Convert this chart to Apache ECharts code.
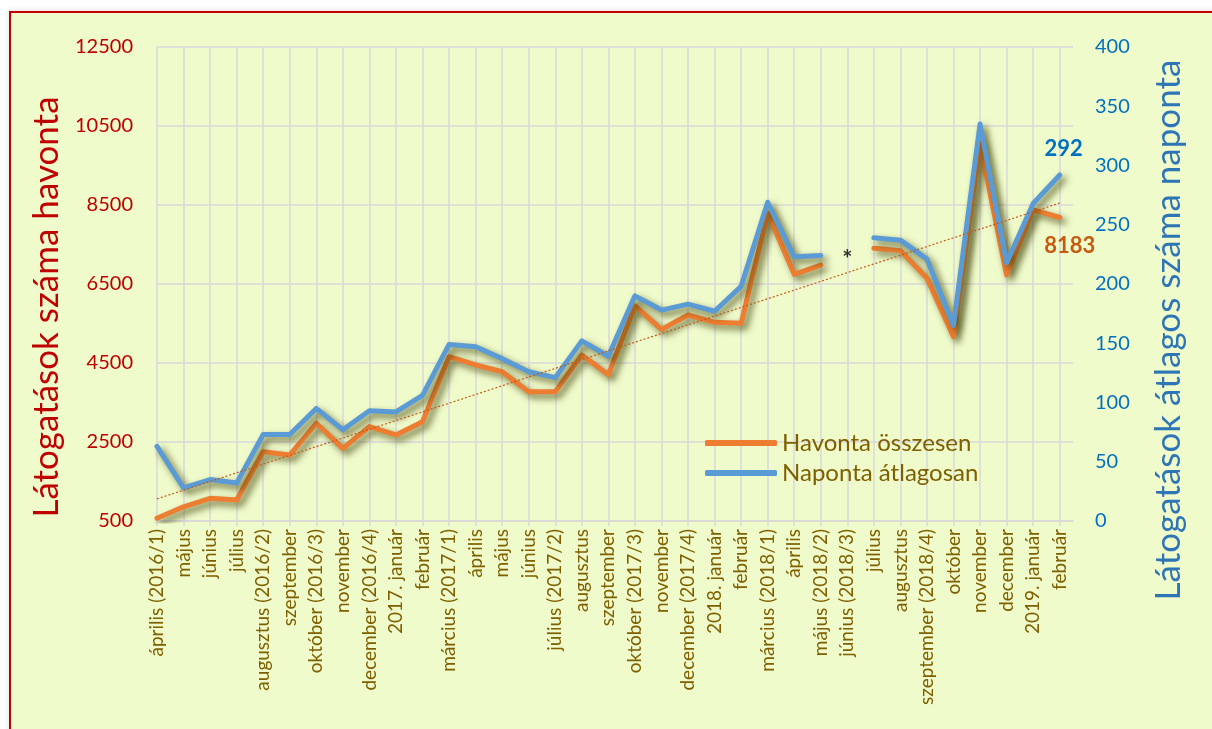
<!DOCTYPE html>
<html>
<head>
<meta charset="utf-8">
<script src="https://cdn.jsdelivr.net/npm/echarts@6/dist/echarts.min.js"></script>
<style>
html,body{margin:0;padding:0;background:#ffffff;overflow:hidden;width:1212px;height:729px;}
#bg{position:absolute;left:9px;top:11px;width:1260px;height:780px;background:#F0FBCC;border:2px solid #C00000;box-shadow:-2px -2px 4px rgba(0,0,0,0.08);}
#chart{position:absolute;left:0;top:0;width:1212px;height:729px;}
</style>
</head>
<body>
<div id="bg"></div>
<div id="chart"></div>
<script>
const categories = [
  'április (2016/1)','május','június','július','augusztus (2016/2)','szeptember',
  'október (2016/3)','november','december (2016/4)','2017. január','február',
  'március (2017/1)','április','május','június','július (2017/2)','augusztus',
  'szeptember','október (2017/3)','november','december (2017/4)','2018. január',
  'február','március (2018/1)','április','május (2018/2)','június (2018/3)',
  'július','augusztus','szeptember (2018/4)','október','november','december',
  '2019. január','február'
];
const monthlyTotal = [570, 860, 1075, 1030, 2255, 2170, 2975, 2340, 2890, 2680, 3015,
  4660, 4450, 4280, 3775, 3775, 4700, 4200, 5945, 5350, 5715, 5530, 5505,
  8290, 6745, 6980, null, 7405, 7345, 6645, 5165, 10050, 6730, 8375, 8183];
const dailyAverage = [63, 28, 35, 32, 73, 73, 95, 77, 93, 92, 106,
  149, 147, 137, 126, 121, 152, 139, 190, 178, 183, 177, 198,
  269, 223, 224, null, 239, 237, 221, 165, 335, 218, 268, 292];
const trendEnds = [[0, 1060], [34, 8550]];
const noteMark = [[26, 7100]];
const leftTicks = [500, 2500, 4500, 6500, 8500, 10500, 12500];
const rightTicks = [0, 50, 100, 150, 200, 250, 300, 350, 400];
const seriesNames = ['Havonta összesen', 'Naponta átlagosan'];
const axisTitles = ['Látogatások száma havonta', 'Látogatások átlagos száma naponta'];

const FONT = "Lato, 'Noto Sans', sans-serif";
const last = categories.length - 1;

function toPairs(arr, labelCfg) {
  return arr.map((v, i) => {
    const item = { value: [i, v == null ? '-' : v] };
    if (i === last && labelCfg) item.label = labelCfg;
    return item;
  });
}

const shadow = { shadowColor: 'rgba(60,60,0,0.75)', shadowBlur: 7, shadowOffsetX: 4, shadowOffsetY: 4 };

const chart = echarts.init(document.getElementById('chart'), null, { renderer: 'canvas' });
chart.setOption({
  backgroundColor: 'transparent',
  animation: false,
  textStyle: { fontFamily: FONT },
  grid: { left: 157, right: 139, top: 47, bottom: 208, containLabel: false },
  legend: {
    data: seriesNames,
    orient: 'vertical',
    left: 700, top: 426,
    itemWidth: 72, itemHeight: 6, itemGap: 6,
    icon: 'roundRect',
    textStyle: { color: '#7F6000', fontSize: 24, lineHeight: 24, fontFamily: FONT }
  },
  xAxis: {
    type: 'value', min: 0, max: 34.5, interval: 1,
    axisLine: { show: true, lineStyle: { color: '#D9D9D9', width: 1.5 } },
    axisTick: { show: true, length: 5, lineStyle: { color: '#D9D9D9', width: 1.5 } },
    splitLine: { show: true, showMaxLine: false, lineStyle: { color: '#D9D9D9', width: 1.5 } },
    axisLabel: {
      rotate: 90, margin: 8, color: '#7F6000', fontSize: 19, fontFamily: FONT,
      showMaxLabel: false,
      formatter: v => (Number.isInteger(v) && categories[v] !== undefined) ? categories[v] : ''
    }
  },
  yAxis: [
    {
      type: 'value', min: leftTicks[0], max: leftTicks[leftTicks.length - 1],
      position: 'left',
      name: axisTitles[0], nameLocation: 'middle', nameRotate: 90, nameGap: 92,
      nameTextStyle: { color: '#C00000', fontSize: 35, fontFamily: FONT, padding: [0, 46, 0, 0] },
      axisLine: { show: false },
      axisTick: { show: false, customValues: leftTicks },
      splitLine: { show: true, lineStyle: { color: '#D9D9D9', width: 1.5 } },
      axisLabel: { customValues: leftTicks, formatter: v => String(v), color: '#C00000', fontSize: 20, margin: 24, fontFamily: FONT }
    },
    {
      type: 'value', min: rightTicks[0], max: rightTicks[rightTicks.length - 1], interval: 50,
      position: 'right',
      name: axisTitles[1], nameLocation: 'middle', nameRotate: 90, nameGap: 78,
      nameTextStyle: { color: '#2E75B6', fontSize: 35, fontFamily: FONT, padding: [0, 92, 0, 0] },
      axisLine: { show: false },
      axisTick: { show: false },
      splitLine: { show: false },
      axisLabel: { formatter: v => String(v), color: '#0070C0', fontSize: 20, margin: 22, fontFamily: FONT }
    }
  ],
  series: [
    {
      name: seriesNames[0], type: 'line', yAxisIndex: 0,
      data: toPairs(monthlyTotal, {
        show: true, position: 'bottom', distance: 17, offset: [10, 0],
        formatter: p => p.value[1], color: '#C55A11', fontSize: 22, fontWeight: 'bold', fontFamily: FONT
      }),
      showSymbol: true, showAllSymbol: true, symbol: 'circle', symbolSize: 0,
      connectNulls: false,
      itemStyle: { color: '#ED7D31' },
      lineStyle: Object.assign({ color: '#ED7D31', width: 5, join: 'round', cap: 'round' }, shadow),
      label: { show: false },
      z: 3
    },
    {
      name: seriesNames[1], type: 'line', yAxisIndex: 1,
      data: toPairs(dailyAverage, {
        show: true, position: 'top', distance: 15, offset: [4, 0],
        formatter: p => p.value[1], color: '#0070C0', fontSize: 22, fontWeight: 'bold', fontFamily: FONT
      }),
      showSymbol: true, showAllSymbol: true, symbol: 'circle', symbolSize: 0,
      connectNulls: false,
      itemStyle: { color: '#5B9BD5' },
      lineStyle: Object.assign({ color: '#5B9BD5', width: 5, join: 'round', cap: 'round' }, shadow),
      label: { show: false },
      z: 4
    },
    {
      name: 'trend', type: 'line', yAxisIndex: 0,
      data: trendEnds, showSymbol: false, silent: true,
      lineStyle: { color: '#C55A11', width: 1.2, type: [2, 2] },
      z: 5
    },
    {
      name: 'note', type: 'scatter', yAxisIndex: 0,
      data: noteMark, symbolSize: 0, silent: true,
      label: { show: true, position: 'inside', formatter: '*', color: '#000000', fontSize: 24, fontWeight: 'bold', fontFamily: FONT },
      z: 6
    }
  ]
});
</script>
</body>
</html>
